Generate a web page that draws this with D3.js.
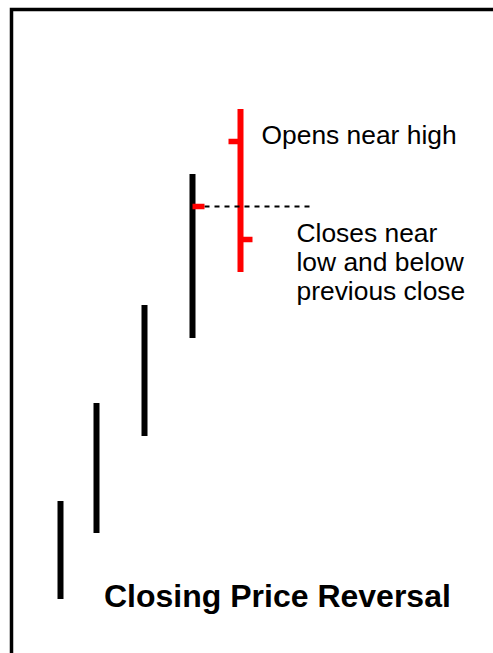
<!DOCTYPE html>
<html>
<head>
<meta charset="utf-8">
<script src="https://cdn.jsdelivr.net/npm/d3@7"></script>
<style>
  body { margin: 0; background: #fff; }
  svg { display: block; }
  text { font-family: Arial, "Liberation Sans", sans-serif; }
</style>
</head>
<body>
<div id="chart"></div>
<script>
/** bar positions (trading day units) and prices **/
var days   = [0, 3, 7, 11, 15];
var highs  = [23.8, 43.4, 63, 89.2, 102.2];
var lows   = [4.2, 17.4, 36.8, 56.4, 69.6];
var opens  = [null, null, null, null, 95.7];
var closes = [null, null, null, 82.7, 76.1];
var barColors = ["black", "black", "black", "black", "red"];

var openLabel = ["Opens near high"];
var closeLabel = ["Closes near", "low and below", "previous close"];
var title = "Closing Price Reversal";

var width = 493, height = 653;

var x = d3.scaleLinear().domain([0, 15]).range([60.5, 240.5]);
var y = d3.scaleLinear().domain([0, 110]).range([620, 70]);

var bars = days.map(function (d, i) {
    return {day: d, high: highs[i], low: lows[i], open: opens[i], close: closes[i], color: barColors[i]};
});

var svg = d3.select("#chart").append("svg")
    .attr("width", width)
    .attr("height", height);

svg.append("rect")
    .attr("x", 0).attr("y", 0)
    .attr("width", width).attr("height", height)
    .attr("fill", "#fff");

// frame, runs off the right and bottom edges
svg.append("rect")
    .attr("x", 11.5).attr("y", 9.5)
    .attr("width", 600).attr("height", 800)
    .attr("fill", "none")
    .attr("stroke", "black")
    .attr("stroke-width", 3.5);

var g = svg.append("g");

g.selectAll(".bar")
    .data(bars)
    .enter().append("line")
    .attr("class", "bar")
    .attr("x1", function (d) { return x(d.day); })
    .attr("x2", function (d) { return x(d.day); })
    .attr("y1", function (d) { return y(d.high); })
    .attr("y2", function (d) { return y(d.low); })
    .attr("stroke", function (d) { return d.color; })
    .attr("stroke-width", 6);

// dashed line at previous close
var prev = bars[3];
g.append("line")
    .attr("x1", x(prev.day) + 12)
    .attr("x2", x(prev.day) + 117)
    .attr("y1", y(prev.close))
    .attr("y2", y(prev.close))
    .attr("stroke", "black")
    .attr("stroke-width", 2)
    .style("stroke-dasharray", "5,5");

g.selectAll(".open")
    .data(bars.filter(function (d) { return d.open != null; }))
    .enter().append("line")
    .attr("class", "open")
    .attr("x1", function (d) { return x(d.day) - 12; })
    .attr("x2", function (d) { return x(d.day); })
    .attr("y1", function (d) { return y(d.open); })
    .attr("y2", function (d) { return y(d.open); })
    .attr("stroke", "red")
    .attr("stroke-width", 5.5);

g.selectAll(".close")
    .data(bars.filter(function (d) { return d.close != null; }))
    .enter().append("line")
    .attr("class", "close")
    .attr("x1", function (d) { return x(d.day); })
    .attr("x2", function (d) { return x(d.day) + 12; })
    .attr("y1", function (d) { return y(d.close); })
    .attr("y2", function (d) { return y(d.close); })
    .attr("stroke", "red")
    .attr("stroke-width", 5.5);

var last = bars[4];

g.append("text")
    .attr("x", x(last.day) + 21)
    .attr("y", y(last.open) + 2)
    .attr("font-size", "26.4px")
    .attr("fill", "black")
    .text(openLabel[0]);

g.selectAll(".closeLabel")
    .data(closeLabel)
    .enter().append("text")
    .attr("class", "closeLabel")
    .attr("x", x(last.day) + 56)
    .attr("y", function (d, i) { return y(last.close) + 2 + i * 29; })
    .attr("font-size", "26.4px")
    .attr("fill", "black")
    .text(function (d) { return d; });

svg.append("text")
    .attr("x", 104)
    .attr("y", 607)
    .attr("font-size", "32px")
    .attr("font-weight", "bold")
    .attr("fill", "black")
    .text(title);
</script>
</body>
</html>
